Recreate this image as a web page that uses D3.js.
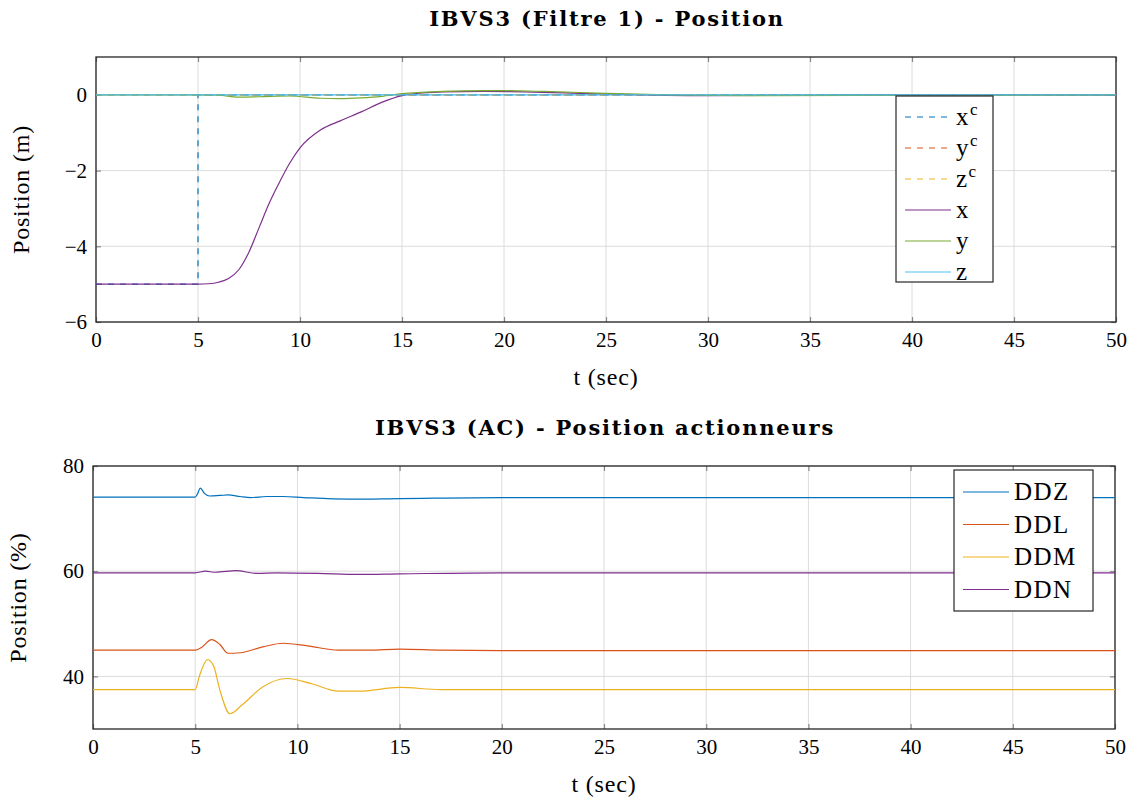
<!DOCTYPE html>
<html lang="en">
<head>
<meta charset="UTF-8">
<script src="https://d3js.org/d3.v7.min.js"></script>
<title>IBVS3</title>
<style>
  body { margin: 0; background: #fff; }
</style>
</head>
<body>
<svg id="chart" width="1137" height="800"></svg>
<script>
// --- data ---
const tTicks = [0, 5, 10, 15, 20, 25, 30, 35, 40, 45, 50];

// top plot : position (m)
const posTicks = [-6, -4, -2, 0];
const tX  = [0, 5, 5.5, 6, 6.5, 7, 7.5, 8, 8.5, 9, 9.5, 10, 11, 12, 13, 14, 15, 16, 17, 19, 21, 23, 25, 27, 30, 35, 40, 50];
const posX = [-5, -5, -4.99, -4.95, -4.85, -4.62, -4.15, -3.5, -2.85, -2.3, -1.8, -1.4, -0.93, -0.68, -0.45, -0.2, -0.02, 0.05, 0.08, 0.09, 0.08, 0.05, 0.02, 0.0, -0.02, -0.01, 0.0, 0.0];
const tY  = [0, 5, 6, 7, 8, 9.5, 11, 12, 13, 14, 15, 17, 19, 20, 22, 25, 28, 32, 40, 50];
const posY = [0, 0, -0.01, -0.06, -0.05, -0.03, -0.09, -0.1, -0.08, -0.04, 0.03, 0.09, 0.11, 0.11, 0.09, 0.04, 0.0, -0.02, -0.01, 0.0];
const tZ  = [0, 50];
const posZ = [0, 0];
const tXc = [0, 5, 5, 50];
const posXc = [-5, -5, 0, 0];
const tRef = [0, 50];
const posYc = [0, 0];
const posZc = [0, 0];

// bottom plot : actuators (%)
const actTicks = [40, 60, 80];
const tDDZ = [0, 5, 5.1, 5.25, 5.45, 5.7, 6.2, 6.6, 7.2, 7.7, 8.5, 9.3, 10.3, 12.5, 15, 20, 25, 50];
const ddz  = [74.1, 74.1, 74.6, 75.8, 74.8, 74.3, 74.4, 74.5, 74.2, 74.0, 74.2, 74.2, 74.0, 73.7, 73.8, 74.0, 74.0, 74.0];
const tDDL = [0, 5, 5.3, 5.8, 6.2, 6.6, 7.2, 8.3, 9.3, 10.5, 12, 13.5, 15, 17, 20, 50];
const ddl  = [45.0, 45.0, 45.5, 47.0, 46.1, 44.4, 44.5, 45.6, 46.3, 45.8, 45.0, 45.0, 45.2, 45.0, 44.9, 44.9];
const tDDM = [0, 5, 5.2, 5.6, 5.9, 6.2, 6.7, 7.3, 8.3, 9.5, 10.7, 12, 13, 15, 17, 20, 50];
const ddm  = [37.5, 37.5, 40.0, 43.2, 42.0, 37.5, 32.9, 34.6, 38.0, 39.6, 38.6, 37.2, 37.2, 37.9, 37.5, 37.5, 37.5];
const tDDN = [0, 5, 5.5, 6, 7, 8, 9, 11, 13, 15, 20, 50];
const ddn  = [59.7, 59.7, 60.0, 59.8, 60.1, 59.6, 59.7, 59.6, 59.4, 59.5, 59.7, 59.7];

// --- drawing ---
const svg = d3.select("#chart");
const gridColor = "#dcdcdc";
const axisColor = "#262626";
const serif = '"Liberation Serif", "Times New Roman", serif';
const serifBold = '"DejaVu Serif", serif';

function makePanel(box, yDomain, yTicks, title, ylabel) {
  const x = d3.scaleLinear().domain([0, 50]).range([box.left, box.right]);
  const y = d3.scaleLinear().domain(yDomain).range([box.bottom, box.top]);
  const g = svg.append("g");

  // grid
  g.selectAll(".gx").data(tTicks).join("line")
    .attr("x1", d => x(d)).attr("x2", d => x(d))
    .attr("y1", box.top).attr("y2", box.bottom)
    .attr("stroke", gridColor).attr("stroke-width", 1);
  g.selectAll(".gy").data(yTicks).join("line")
    .attr("class", "gy")
    .attr("x1", box.left).attr("x2", box.right)
    .attr("y1", d => y(d)).attr("y2", d => y(d))
    .attr("stroke", gridColor).attr("stroke-width", 1);

  // axes (ticks inside)
  const fmt = d => d < 0 ? "\u2212" + Math.abs(d) : String(d);
  const xb = d3.axisBottom(x).tickValues(tTicks).tickSizeInner(-5).tickSizeOuter(0).tickPadding(10).tickFormat(fmt);
  const xt = d3.axisTop(x).tickValues(tTicks).tickSizeInner(-5).tickSizeOuter(0).tickFormat("");
  const yl = d3.axisLeft(y).tickValues(yTicks).tickSizeInner(-5).tickSizeOuter(0).tickPadding(9).tickFormat(fmt);
  const yr = d3.axisRight(y).tickValues(yTicks).tickSizeInner(-5).tickSizeOuter(0).tickFormat("");
  [[xb, `translate(0,${box.bottom})`], [xt, `translate(0,${box.top})`],
   [yl, `translate(${box.left},0)`], [yr, `translate(${box.right},0)`]].forEach(([ax, tr]) => {
    const a = g.append("g").attr("transform", tr).call(ax)
      .attr("font-family", serif).attr("font-size", 21);
    a.select(".domain").remove();
    a.selectAll("line").attr("stroke", "#888").attr("stroke-width", 1.2);
    a.selectAll("text").attr("fill", "#000");
  });

  g.append("rect")
    .attr("x", box.left).attr("y", box.top)
    .attr("width", box.right - box.left).attr("height", box.bottom - box.top)
    .attr("fill", "none").attr("stroke", axisColor).attr("stroke-width", 1.3);

  g.append("text").attr("x", (box.left + box.right) / 2 + 1).attr("y", box.top - 31)
    .attr("text-anchor", "middle").attr("font-family", serifBold)
    .attr("font-size", 21).attr("font-weight", "bold").attr("letter-spacing", 1.8)
    .text(title);
  g.append("text").attr("x", (box.left + box.right) / 2).attr("y", box.bottom + 63)
    .attr("text-anchor", "middle").attr("font-family", serif).attr("font-size", 24)
    .attr("letter-spacing", 0.8).text("t (sec)");
  g.append("text")
    .attr("transform", `translate(${box.left - 67},${(box.top + box.bottom) / 2}) rotate(-90)`)
    .attr("text-anchor", "middle").attr("font-family", serif).attr("font-size", 24)
    .attr("letter-spacing", 0.8).text(ylabel);

  const clipId = "clip" + Math.round(box.top);
  svg.append("clipPath").attr("id", clipId).append("rect")
    .attr("x", box.left).attr("y", box.top)
    .attr("width", box.right - box.left).attr("height", box.bottom - box.top);
  const plot = svg.append("g").attr("clip-path", `url(#${clipId})`);
  return { x, y, plot };
}

function drawSeries(p, ts, vs, color, dash, curve) {
  const pts = ts.map((t, i) => [t, vs[i]]);
  const line = d3.line().x(d => p.x(d[0])).y(d => p.y(d[1])).curve(curve || d3.curveMonotoneX);
  p.plot.append("path").datum(pts)
    .attr("d", line).attr("fill", "none")
    .attr("stroke", color).attr("stroke-width", 1.2)
    .attr("stroke-dasharray", dash || null);
}

function legend(box, items) {
  const g = svg.append("g");
  g.append("rect").attr("x", box.x).attr("y", box.y).attr("width", box.w).attr("height", box.h)
    .attr("fill", "#fff").attr("stroke", axisColor).attr("stroke-width", 1.2);
  items.forEach((it, i) => {
    const yy = box.y + box.first + i * box.step;
    g.append("line").attr("x1", box.x + 9).attr("x2", box.x + 55)
      .attr("y1", yy).attr("y2", yy)
      .attr("stroke", it.color).attr("stroke-width", 1.2)
      .attr("stroke-dasharray", it.dash || null);
    const t = g.append("text").attr("x", box.x + 60).attr("y", yy + 8)
      .attr("font-family", serif).attr("font-size", box.fs).attr("letter-spacing", 1.5);
    t.append("tspan").text(it.name);
    if (it.sup) t.append("tspan").attr("dy", -10).attr("font-size", 17).text(it.sup);
  });
}

const C = { blue: "#0072BD", red: "#D95319", yellow: "#EDB120", purple: "#7E2F8E", green: "#77AC30", cyan: "#4DBEEE" };

// top panel
const p1 = makePanel({ left: 96, right: 1116, top: 57, bottom: 322 }, [-6, 1], posTicks,
  "IBVS3 (Filtre 1) - Position", "Position (m)");
drawSeries(p1, tXc, posXc, C.blue, "6,6", d3.curveLinear);
drawSeries(p1, tRef, posYc, C.red, "6,6", d3.curveLinear);
drawSeries(p1, tRef, posZc, C.yellow, "6,6", d3.curveLinear);
drawSeries(p1, tX, posX, C.purple);
drawSeries(p1, tY, posY, C.green);
drawSeries(p1, tZ, posZ, C.cyan, null, d3.curveLinear);
legend({ x: 896, y: 96, w: 97, h: 186, first: 21, step: 31, fs: 25 }, [
  { name: "x", sup: "c", color: C.blue, dash: "6,6" },
  { name: "y", sup: "c", color: C.red, dash: "6,6" },
  { name: "z", sup: "c", color: C.yellow, dash: "6,6" },
  { name: "x", color: C.purple },
  { name: "y", color: C.green },
  { name: "z", color: C.cyan }
]);

// bottom panel
const p2 = makePanel({ left: 93, right: 1115, top: 466, bottom: 729 }, [30, 80], actTicks,
  "IBVS3 (AC) - Position actionneurs", "Position (%)");
drawSeries(p2, tDDZ, ddz, C.blue);
drawSeries(p2, tDDL, ddl, C.red);
drawSeries(p2, tDDM, ddm, C.yellow);
drawSeries(p2, tDDN, ddn, C.purple);
legend({ x: 954, y: 470, w: 139, h: 141, first: 22, step: 32.5, fs: 25 }, [
  { name: "DDZ", color: C.blue },
  { name: "DDL", color: C.red },
  { name: "DDM", color: C.yellow },
  { name: "DDN", color: C.purple }
]);
</script>
</body>
</html>
